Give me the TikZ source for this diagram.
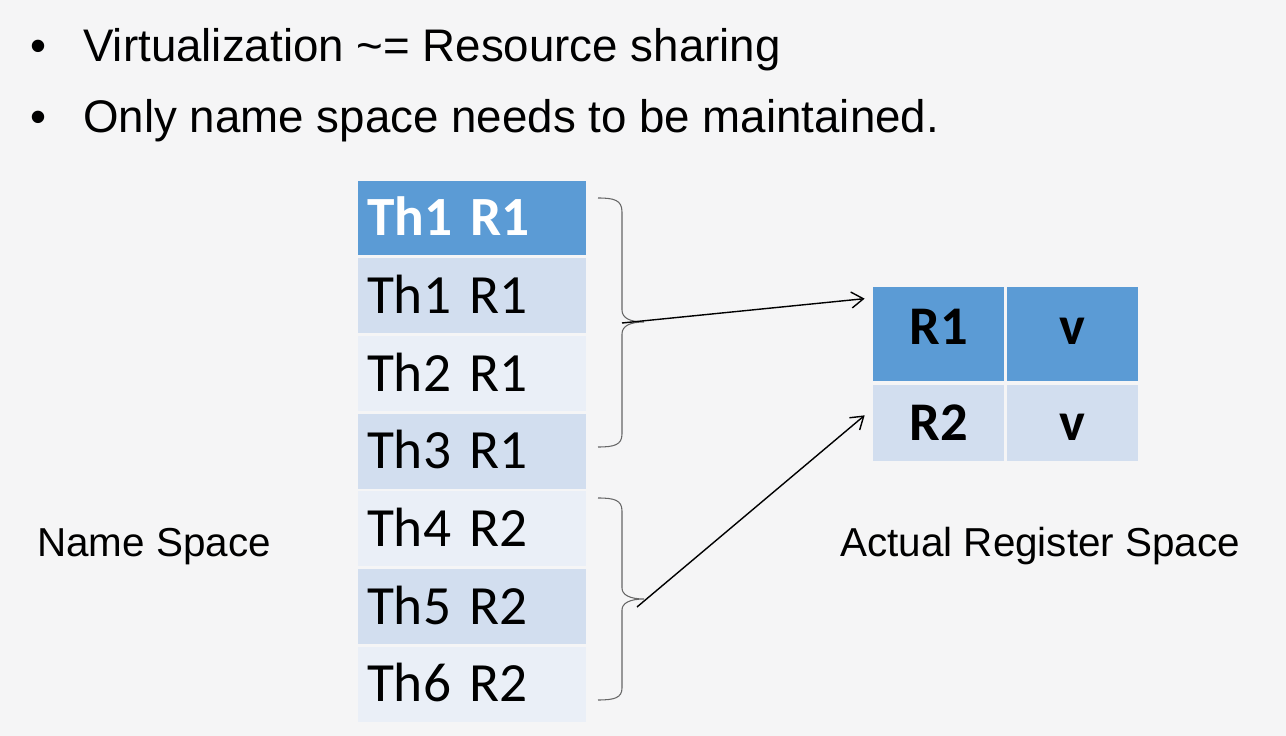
\documentclass[tikz,border=0pt]{standalone}
\usepackage{fontspec}
\setmainfont{Liberation Sans}
\newfontfamily\calfont{Carlito}
\usepackage{tikz}
\usetikzlibrary{arrows.meta,positioning,calc}
\definecolor{hdblue}{HTML}{5B9BD5}
\definecolor{rowa}{HTML}{D2DEEF}
\definecolor{rowb}{HTML}{EAEFF7}
\definecolor{pagebg}{HTML}{F5F5F6}
\tikzset{
  cell/.style    = {fill=rowa, text width=4.2cm, align=left, inner xsep=0.18cm, inner ysep=0pt,
                    minimum height=1.50cm, text height=20.3pt, text depth=0pt,
                    font=\calfont\fontsize{31.5}{36}\selectfont},
  altcell/.style = {cell, fill=rowb},
  hdcell/.style  = {cell, fill=hdblue, text=white, font=\calfont\bfseries\fontsize{31.5}{36}\selectfont},
  reg/.style     = {fill=hdblue, minimum width=2.62cm, minimum height=1.88cm, inner sep=0pt,
                    text height=20pt, text depth=8.5pt, font=\calfont\bfseries\fontsize{31}{36}\selectfont},
  regb/.style    = {reg, fill=rowa, minimum height=1.52cm, text depth=0pt},
  bullet/.style  = {anchor=base, inner sep=0pt, font=\fontsize{26}{30}\selectfont},
  bline/.style   = {anchor=base west, inner sep=0pt, font=\fontsize{26}{30}\selectfont},
  lbl/.style     = {anchor=base west, inner sep=0pt, font=\fontsize{23}{27}\selectfont},
  brc/.style     = {draw=black!60, line width=0.6pt},
  ar/.style      = {-{Straight Barb[length=2.4mm,width=3.2mm]}, line width=0.8pt},
}
\begin{document}
\begin{tikzpicture}[x=0.02cm, y=-0.02cm]
  \useasboundingbox (0,0) rectangle (1286,736);
  \fill[pagebg] (0,0) rectangle (1286,736);

  % bullet lines
  \node[bullet] (bul1) at (38,62) {•};
  \node[bline] (txt1) at (83,62) {Virtualization \textasciitilde= Resource sharing};
  \node[bullet] (bul2) at (38,133) {•};
  \node[bline] (txt2) at (83,133) {Only name space needs to be maintained.};

  % name space table
  \node[hdcell] (th0) at (472,218) {Th1 R1};
  \node[cell, below=0.04cm of th0] (th1) {Th1 R1};
  \node[altcell, below=0.04cm of th1] (th2) {Th2 R1};
  \node[cell, below=0.04cm of th2] (th3) {Th3 R1};
  \node[altcell, below=0.04cm of th3] (th4) {Th4 R2};
  \node[cell, below=0.04cm of th4] (th5) {Th5 R2};
  \node[altcell, below=0.04cm of th5] (th6) {Th6 R2};

  % register table
  \node[reg] (r1) at (938.5,334) {R1};
  \node[reg, right=0.04cm of r1] (v1) {v};
  \node[regb, below=0.06cm of r1] (r2) {R2};
  \node[regb, below=0.06cm of v1] (v2) {v};

  \node[lbl] (ns) at (37,557) {Name Space};
  \node[lbl] (rs) at (840,557) {Actual Register Space};

  % braces
  \draw[brc] (598,198) .. controls (614,198) and (622,200) .. (622,212) -- (622,310)
    .. controls (622,318) and (630,322) .. (644,322) .. controls (630,322) and (622,326) .. (622,334)
    -- (622,434) .. controls (622,445) and (614,447) .. (598,447);
  \draw[brc] (598,498) .. controls (614,498) and (622,500) .. (622,511) -- (622,588)
    .. controls (622,595) and (630,599) .. (644,599) .. controls (630,599) and (622,603) .. (622,610)
    -- (622,688) .. controls (622,698) and (614,700) .. (598,700);
  \coordinate (tip1) at (622,323);
  \coordinate (tip2) at (637,607);

  \draw[ar] (tip1) -- ($(r1.north west)+(-8,12)$);
  \draw[ar] (tip2) -- ($(r2.north west)+(-8,31)$);
\end{tikzpicture}
\end{document}
